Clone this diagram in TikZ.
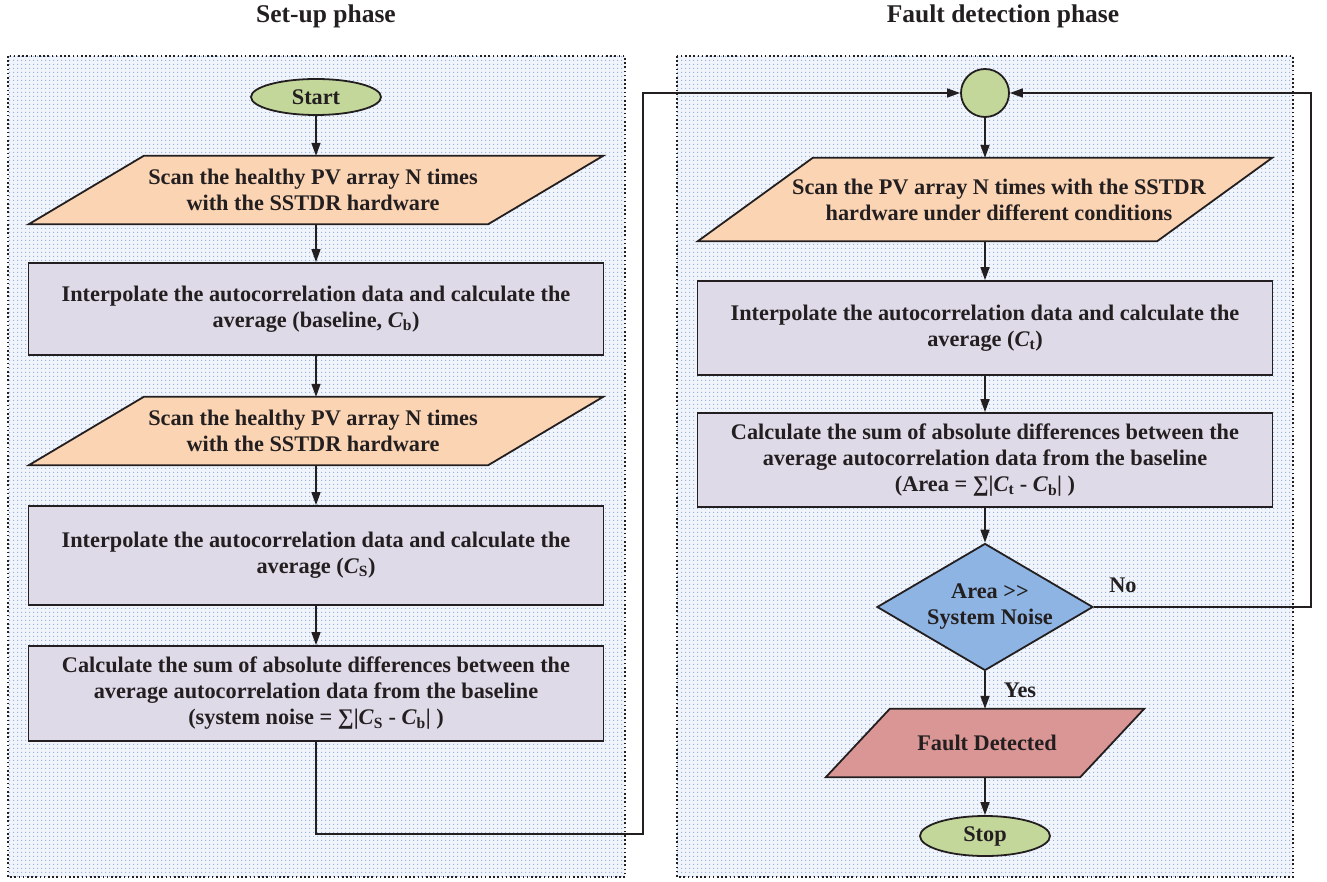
\documentclass[tikz,border=0pt]{standalone}
\usepackage{fontspec}
\setmainfont{Liberation Serif}
\usetikzlibrary{shapes.geometric,arrows.meta,patterns.meta}
\pgfdeclarelayer{back}\pgfdeclarelayer{shp}\pgfsetlayers{back,shp,main}
\definecolor{ink}{HTML}{231F20}
\definecolor{dotblue}{HTML}{8FAEDB}
\definecolor{tint}{HTML}{F1F5FB}
\definecolor{gfill}{HTML}{C4D79B}
\definecolor{pfill}{HTML}{FBD4B4}
\definecolor{lfill}{HTML}{DFDAE8}
\definecolor{bfill}{HTML}{8DB4E2}
\definecolor{rfill}{HTML}{DA9694}
\tikzdeclarepattern{name=bigdots, type=uncolored,
  bounding box={(0pt,0pt) and (4pt,4pt)}, tile size={(4pt,4pt)},
  code={\pgfpathcircle{\pgfpoint{2pt}{2pt}}{0.85pt}\pgfusepath{fill}}}
\newcommand\Cv[1]{\textit{C}\textsubscript{#1}}
\newcommand\paraback[4]{% node name, fill, top shift, bottom shift
  \begin{pgfonlayer}{shp}
  \draw[shapeline,fill=#2] ([xshift=#3]#1.north west) -- ([xshift=#3]#1.north east)
     -- ([xshift=#4]#1.south east) -- ([xshift=#4]#1.south west) -- cycle;
  \end{pgfonlayer}}
\begin{document}
\begin{tikzpicture}[x=1pt,y=-1pt,
  every node/.style={font=\fontsize{22.3}{26}\selectfont\bfseries, text=ink, align=center, inner sep=0pt},
  shapeline/.style={draw=ink, line width=1.8pt, line join=miter},
  arr/.style={draw=ink, line width=1.6pt, -{Triangle[length=13pt,width=9pt]}},
  term/.style={ellipse, shapeline, fill=gfill, minimum width=130pt, minimum height=36pt},
  txtbox/.style={rectangle, minimum height=#1},
  procbox/.style={rectangle, shapeline, fill=lfill, minimum width=575pt, minimum height=#1},
  panel/.style={pattern=bigdots, pattern color=dotblue},
  panelborder/.style={draw=ink, line width=1.6pt, dash pattern=on 1.6pt off 2.6pt},
  title/.style={font=\fontsize{25.5}{30}\selectfont\bfseries}
]
\useasboundingbox (0,0) rectangle (1327,882);
\begin{pgfonlayer}{back}
  \fill[white] (0,0) rectangle (1327,882);
  \fill[tint] (8,56) rectangle (625,877);
  \fill[tint] (677,56) rectangle (1293,877);
  \path[panel] (8,56) rectangle (625,877);
  \path[panel] (677,56) rectangle (1293,877);
  \path[panelborder] (8,56) rectangle (625,877);
  \path[panelborder] (677,56) rectangle (1293,877);
\end{pgfonlayer}

% titles
\node[title] (t1) at (326,16) {Set-up phase};
\node[title] (t2) at (1003,16) {Fault detection phase};

% left column
\node[term] (start) at (316,97) {Start};
\node[txtbox=68pt, minimum width=459pt] (s1) at (313,190)
  {Scan the healthy PV array N times\\with the SSTDR hardware};
\paraback{s1}{pfill}{60.5pt}{-54.5pt}
\node[procbox=92pt] (r1) at (316,309)
  {Interpolate the autocorrelation data and calculate the\\average (baseline, \Cv{b})};
\node[txtbox=68pt, minimum width=459pt] (s2) at (313,431)
  {Scan the healthy PV array N times\\with the SSTDR hardware};
\paraback{s2}{pfill}{60.5pt}{-54.5pt}
\node[procbox=99pt] (r2) at (316,555.5)
  {Interpolate the autocorrelation data and calculate the\\average (\Cv{S})};
\node[procbox=95pt] (r3) at (316,693.5)
  {Calculate the sum of absolute differences between the\\average autocorrelation data from the baseline\\(system noise = ∑|\Cv{S} - \Cv{b}| )};

% right column
\node[circle, shapeline, fill=gfill, minimum size=48pt] (circ) at (985,93) {};
\node[txtbox=83pt, minimum width=459pt] (s3) at (999,199.5)
  {Scan the PV array N times with the SSTDR\\hardware under different conditions};
\paraback{s3}{pfill}{43.5pt}{-71.5pt}
\node[procbox=94pt] (r4) at (985,328)
  {Interpolate the autocorrelation data and calculate the\\average (\Cv{t})};
\node[procbox=94pt] (r5) at (985,460)
  {Calculate the sum of absolute differences between the\\average autocorrelation data from the baseline\\(Area = ∑|\Cv{t} - \Cv{b}| )};
\node[diamond, shapeline, fill=bfill, minimum width=216pt, minimum height=127pt, aspect=1.7] (dia) at (985,607) {};
\node (diatext) at (990,607) {Area >{}>\\System Noise};
\node[txtbox=68pt, minimum width=254pt] (fd) at (987,743) {Fault Detected};
\paraback{fd}{rfill}{30pt}{-34pt}
\node[term, minimum height=40pt] (stop) at (985,836) {Stop};

\node (no) at (1123,585) {No};
\node (yes) at (1020,690) {Yes};

% connectors
\draw[arr] (start) -- (start |- s1.north);
\draw[arr] (start |- s1.south) -- (r1);
\draw[arr] (r1) -- (r1 |- s2.north);
\draw[arr] (r1 |- s2.south) -- (r2);
\draw[arr] (r2) -- (r3);
\coordinate (c1) at (643,834);
\draw[arr] (r3.south) |- (c1) |- (circ.west);
\draw[arr] (circ) -- (circ |- s3.north);
\draw[arr] (circ |- s3.south) -- (r4);
\draw[arr] (r4) -- (r5);
\draw[arr] (r5.south) -- (dia.north);
\coordinate (c2) at (1311,607);
\draw[arr] (dia.east) -- (c2) |- (circ.east);
\draw[arr] (dia.south) -- (dia.south |- fd.north);
\draw[arr] (stop |- fd.south) -- (stop);
\end{tikzpicture}
\end{document}
